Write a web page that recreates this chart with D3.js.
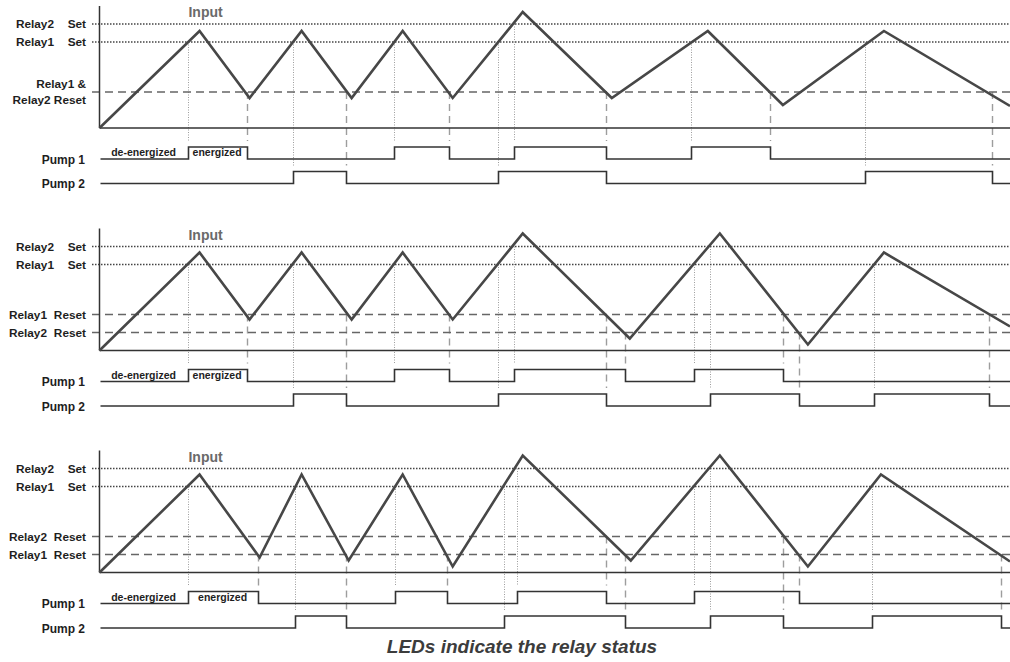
<!DOCTYPE html>
<html>
<head>
<meta charset="utf-8">
<script src="https://cdn.jsdelivr.net/npm/d3@7"></script>
<style>
  body { margin: 0; background: #ffffff; }
  text { font-family: 'Liberation Sans', Arial, sans-serif; }
</style>
</head>
<body>
<div id="timing"></div>
<script>
// time axis (s) and level axis (%) shared by the three diagrams
var timeDomain = [0, 91];
var levelDomain = [0, 122];

// threshold levels
var relay2Set = 104;
var relay1Set = 86;
var upperReset = 36;
var lowerReset = 18;

// input waveform : turning points
var inputTimes1 = [0, 10, 15, 20.2, 25.2, 30.3, 35.3, 42.3, 51.2, 60.8, 68.3, 78.4, 91];
var inputLevels1 = [0, 97, 30, 97, 30, 97, 30, 116, 30, 97, 23, 97, 22];
var inputTimes2 = [0, 10, 15, 20.2, 25.2, 30.3, 35.3, 42.3, 53, 62, 70.8, 78.4, 91];
var inputLevels2 = [0, 98, 31, 98, 31, 98, 31, 117, 12, 117, 6, 98, 24];
var inputTimes3 = [0, 10, 16, 20.2, 24.9, 30.3, 35.3, 42.3, 53.1, 62, 70.8, 78.1, 91];
var inputLevels3 = [0, 98, 15, 98, 12, 98, 6, 117, 12, 117, 6, 98, 11];

// threshold labels
var levelValues1 = [relay2Set, relay1Set, upperReset];
var levelNames1 = ['Relay2', 'Relay1', 'Relay1 &'];
var levelKinds1 = ['Set', 'Set', 'Relay2 Reset'];
var levelValues2 = [relay2Set, relay1Set, upperReset, lowerReset];
var levelNames2 = ['Relay2', 'Relay1', 'Relay1', 'Relay2'];
var levelKinds2 = ['Set', 'Set', 'Reset', 'Reset'];
var levelValues3 = [relay2Set, relay1Set, upperReset, lowerReset];
var levelNames3 = ['Relay2', 'Relay1', 'Relay2', 'Relay1'];
var levelKinds3 = ['Set', 'Set', 'Reset', 'Reset'];

// pump switching instants (each one toggles the output, both start off)
var pump1Toggles1 = [8.8, 14.7, 29.4, 34.9, 41.4, 50.6, 59.1, 67.0];
var pump2Toggles1 = [19.3, 24.6, 39.8, 50.6, 76.5, 89.2];
var pump1Toggles2 = [8.8, 14.7, 29.4, 34.9, 41.4, 52.5, 59.4, 68.3];
var pump2Toggles2 = [19.3, 24.6, 39.8, 50.6, 61.0, 69.9, 77.4, 88.9];
var pump1Toggles3 = [8.8, 15.8, 29.5, 34.7, 41.7, 50.6, 59.4, 69.9];
var pump2Toggles3 = [19.5, 24.6, 40.4, 52.5, 61.0, 68.3, 77.2, 90.1];

// vertical guides : threshold crossed -> pump it switches
var guideTimes1 = [8.8, 14.7, 19.3, 24.6, 29.4, 34.9, 39.8, 41.4, 50.6, 59.1, 67.0, 76.5, 89.2];
var guideLevels1 = [relay1Set, upperReset, relay1Set, upperReset, relay1Set, upperReset, relay1Set, relay2Set, upperReset, relay1Set, upperReset, relay1Set, upperReset];
var guidePumps1 = ['Pump 1', 'Pump 1', 'Pump 2', 'Pump 2', 'Pump 1', 'Pump 1', 'Pump 2', 'Pump 1', 'Pump 1', 'Pump 1', 'Pump 1', 'Pump 2', 'Pump 2'];
var guideTimes2 = [8.8, 14.7, 19.3, 24.6, 29.4, 34.9, 39.8, 41.4, 50.6, 52.5, 59.4, 61.0, 68.3, 69.9, 77.4, 88.9];
var guideLevels2 = [relay1Set, upperReset, relay1Set, upperReset, relay1Set, upperReset, relay1Set, relay2Set, upperReset, lowerReset, relay1Set, relay2Set, upperReset, lowerReset, relay1Set, upperReset];
var guidePumps2 = ['Pump 1', 'Pump 1', 'Pump 2', 'Pump 2', 'Pump 1', 'Pump 1', 'Pump 2', 'Pump 1', 'Pump 2', 'Pump 1', 'Pump 1', 'Pump 2', 'Pump 1', 'Pump 2', 'Pump 2', 'Pump 2'];
var guideTimes3 = [8.8, 15.8, 19.5, 24.6, 29.5, 34.7, 40.4, 41.7, 50.6, 52.5, 59.4, 61.0, 68.3, 69.9, 77.2, 90.1];
var guideLevels3 = [relay1Set, lowerReset, relay1Set, lowerReset, relay1Set, lowerReset, relay1Set, relay2Set, upperReset, lowerReset, relay1Set, relay2Set, upperReset, lowerReset, relay1Set, lowerReset];
var guidePumps3 = ['Pump 1', 'Pump 1', 'Pump 2', 'Pump 2', 'Pump 1', 'Pump 1', 'Pump 2', 'Pump 1', 'Pump 1', 'Pump 2', 'Pump 1', 'Pump 2', 'Pump 2', 'Pump 1', 'Pump 2', 'Pump 2'];

var pumpNames = ['Pump 1', 'Pump 2'];
var stateLabels = ['de-energized', 'energized'];
var caption = 'LEDs indicate the relay status';

var width = 1010;
var height = 662;

var svg = d3.select('#timing').append('svg')
    .attr('width', width)
    .attr('height', height);

var x = d3.scaleLinear()
    .domain(timeDomain)
    .range([99.5, 1010]);

// offset of each pump's "off" line below the input baseline
var pumpRow = d3.scaleOrdinal()
    .domain(pumpNames)
    .range([31, 55.5]);
var pumpStep = 12;

var panels = [
    { base: 128, times: inputTimes1, levels: inputLevels1, lv: levelValues1, ln: levelNames1, lk: levelKinds1,
      pumps: [pump1Toggles1, pump2Toggles1], gt: guideTimes1, gl: guideLevels1, gp: guidePumps1 },
    { base: 350.5, times: inputTimes2, levels: inputLevels2, lv: levelValues2, ln: levelNames2, lk: levelKinds2,
      pumps: [pump1Toggles2, pump2Toggles2], gt: guideTimes2, gl: guideLevels2, gp: guidePumps2 },
    { base: 572.5, times: inputTimes3, levels: inputLevels3, lv: levelValues3, ln: levelNames3, lk: levelKinds3,
      pumps: [pump1Toggles3, pump2Toggles3], gt: guideTimes3, gl: guideLevels3, gp: guidePumps3 }
];

function pumpPoints(toggles) {
    var pts = [[timeDomain[0], 0]];
    var state = 0;
    toggles.forEach(function (t) {
        pts.push([t, state]);
        state = 1 - state;
        pts.push([t, state]);
    });
    pts.push([timeDomain[1], state]);
    return pts;
}

function isSet(level) {
    return level === relay1Set || level === relay2Set;
}

panels.forEach(function (p) {
    var y = d3.scaleLinear()
        .domain(levelDomain)
        .range([p.base, p.base - 122]);

    var g = svg.append('g');

    // vertical guides
    g.selectAll('.guide')
        .data(d3.range(p.gt.length))
        .enter()
        .append('line')
        .attr('class', 'guide')
        .attr('x1', function (i) { return Math.round(x(p.gt[i])) + 0.5; })
        .attr('x2', function (i) { return Math.round(x(p.gt[i])) + 0.5; })
        .attr('y1', function (i) { return y(p.gl[i]); })
        .attr('y2', function (i) { return p.base + pumpRow(p.gp[i]) - 18; })
        .attr('stroke', '#9d9d9d')
        .attr('stroke-width', function (i) { return isSet(p.gl[i]) ? 1 : 1.4; })
        .attr('stroke-dasharray', function (i) { return isSet(p.gl[i]) ? '1,1.5' : '7,5'; });

    // threshold lines
    g.selectAll('.level')
        .data(p.lv)
        .enter()
        .append('line')
        .attr('class', 'level')
        .attr('x1', 92)
        .attr('x2', width)
        .attr('y1', function (d) { return y(d); })
        .attr('y2', function (d) { return y(d); })
        .attr('stroke', function (d) { return isSet(d) ? '#444' : '#666'; })
        .attr('stroke-width', 1.5)
        .attr('stroke-dasharray', function (d) { return isSet(d) ? '1.5,1.5' : '8,5'; });

    // axis and baseline
    g.append('line')
        .attr('x1', x(0)).attr('x2', x(0))
        .attr('y1', y(levelDomain[1])).attr('y2', y(0))
        .attr('stroke', '#333').attr('stroke-width', 1.5);
    g.append('line')
        .attr('x1', x(0)).attr('x2', width)
        .attr('y1', y(0)).attr('y2', y(0))
        .attr('stroke', '#333').attr('stroke-width', 1.5);

    // input signal
    var inputLine = d3.line()
        .x(function (i) { return x(p.times[i]); })
        .y(function (i) { return y(p.levels[i]); });
    g.append('path')
        .attr('d', inputLine(d3.range(p.times.length)))
        .attr('fill', 'none')
        .attr('stroke', '#474747')
        .attr('stroke-width', 2.6)
        .attr('stroke-linejoin', 'miter');

    g.append('text')
        .attr('x', x(10.6))
        .attr('y', y(111))
        .attr('text-anchor', 'middle')
        .style('font-size', '14px')
        .style('font-weight', 'bold')
        .style('fill', '#6a6a6a')
        .text('Input');

    // pumps
    pumpNames.forEach(function (name, k) {
        var low = p.base + pumpRow(name);
        var stepLine = d3.line()
            .x(function (d) { return Math.round(x(d[0])) + 0.5; })
            .y(function (d) { return low - d[1] * pumpStep; });
        g.append('path')
            .attr('d', stepLine(pumpPoints(p.pumps[k])))
            .attr('fill', 'none')
            .attr('stroke', '#333')
            .attr('stroke-width', 1.6);
        g.append('text')
            .attr('x', 85)
            .attr('y', low + 4.5)
            .attr('text-anchor', 'end')
            .style('font-size', '12px')
            .style('font-weight', 'bold')
            .style('fill', '#1e1e1e')
            .text(name);
    });

    // state labels on pump 1
    var p1 = p.pumps[0];
    var p1low = p.base + pumpRow('Pump 1');
    g.append('text')
        .attr('x', (x(0) + x(p1[0])) / 2)
        .attr('y', p1low - 3)
        .attr('text-anchor', 'middle')
        .style('font-size', '10.5px')
        .style('font-weight', 'bold')
        .style('fill', '#1e1e1e')
        .text(stateLabels[0]);
    g.append('text')
        .attr('x', (x(p1[0]) + x(p1[1])) / 2)
        .attr('y', p1low - 3)
        .attr('text-anchor', 'middle')
        .style('font-size', '10.5px')
        .style('font-weight', 'bold')
        .style('fill', '#1e1e1e')
        .text(stateLabels[1]);

    // threshold labels
    p.lv.forEach(function (level, i) {
        var name = p.ln[i];
        var kind = p.lk[i];
        var yy = y(level);
        if (name.indexOf('&') >= 0) {
            g.append('text')
                .attr('x', 86).attr('y', yy - 4)
                .attr('text-anchor', 'end')
                .style('font-size', '11.8px').style('font-weight', 'bold').style('fill', '#1e1e1e')
                .text(name);
            g.append('text')
                .attr('x', 86).attr('y', yy + 11.5)
                .attr('text-anchor', 'end')
                .style('font-size', '11.8px').style('font-weight', 'bold').style('fill', '#1e1e1e')
                .text(kind);
        } else {
            g.append('text')
                .attr('x', kind === 'Set' ? 54 : 47).attr('y', yy + 4)
                .attr('text-anchor', 'end')
                .style('font-size', '11.8px').style('font-weight', 'bold').style('fill', '#1e1e1e')
                .text(name);
            g.append('text')
                .attr('x', 86).attr('y', yy + 4)
                .attr('text-anchor', 'end')
                .style('font-size', '11.8px').style('font-weight', 'bold').style('fill', '#1e1e1e')
                .text(kind);
        }
    });
});

svg.append('text')
    .attr('x', 522)
    .attr('y', 653)
    .attr('text-anchor', 'middle')
    .style('font-size', '19px')
    .style('font-weight', 'bold')
    .style('font-style', 'italic')
    .style('fill', '#3c3c3c')
    .text(caption);
</script>
</body>
</html>
